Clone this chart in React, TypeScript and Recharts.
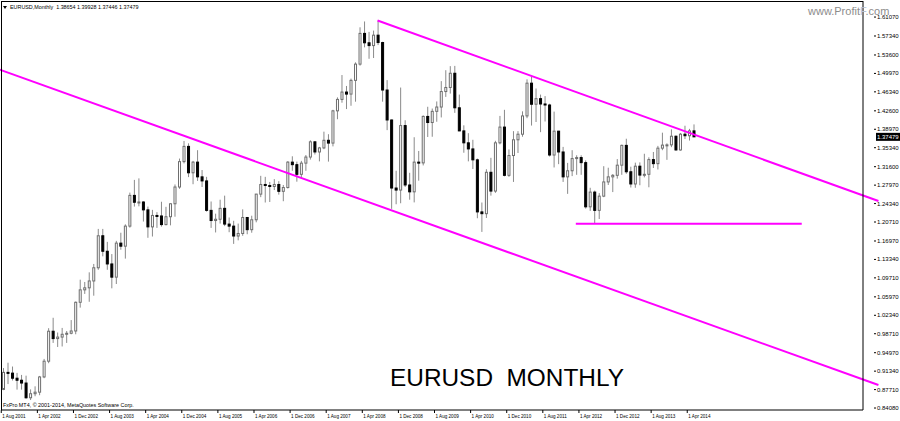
import { ComposedChart, Bar, XAxis, YAxis, ReferenceLine } from 'recharts'

// monthly EURUSD candles, [open, high, low, close], Aug 2001 .. May 2014
const y2001 = [
  [0.8775, 0.9195, 0.876, 0.911], [0.911, 0.93, 0.888, 0.9095], [0.9095, 0.9225, 0.895, 0.8995],
  [0.8995, 0.91, 0.877, 0.8955], [0.8955, 0.906, 0.877, 0.89],
]
const y2002 = [
  [0.89, 0.9045, 0.859, 0.861], [0.861, 0.8775, 0.8565, 0.869], [0.869, 0.8835, 0.864, 0.872],
  [0.872, 0.904, 0.866, 0.902], [0.902, 0.9375, 0.8995, 0.933], [0.933, 0.998, 0.929, 0.992],
  [0.992, 1.0185, 0.969, 0.9775], [0.9775, 0.9895, 0.961, 0.9805], [0.9805, 0.9985, 0.962, 0.986],
  [0.986, 0.9925, 0.969, 0.988], [0.988, 1.014, 0.986, 0.9925], [0.9925, 1.0505, 0.986, 1.049],
]
const y2003 = [
  [1.049, 1.0935, 1.0385, 1.0735], [1.0735, 1.089, 1.0655, 1.0775], [1.0775, 1.108, 1.05, 1.091],
  [1.091, 1.1245, 1.062, 1.117], [1.117, 1.1935, 1.113, 1.18], [1.18, 1.1935, 1.1395, 1.1495],
  [1.1495, 1.168, 1.113, 1.1245], [1.1245, 1.144, 1.0765, 1.0985], [1.0985, 1.17, 1.085, 1.1655],
  [1.1655, 1.186, 1.1525, 1.1595], [1.1595, 1.2025, 1.135, 1.199], [1.199, 1.265, 1.196, 1.2595],
]
const y2004 = [
  [1.2595, 1.29, 1.2375, 1.246], [1.246, 1.293, 1.238, 1.2465], [1.2465, 1.248, 1.208, 1.231],
  [1.231, 1.2375, 1.176, 1.1975], [1.1975, 1.231, 1.1785, 1.22], [1.22, 1.2265, 1.1955, 1.219],
  [1.219, 1.247, 1.198, 1.202], [1.202, 1.237, 1.2005, 1.2175], [1.2175, 1.244, 1.2005, 1.243],
  [1.243, 1.281, 1.2175, 1.276], [1.276, 1.332, 1.2725, 1.326], [1.326, 1.3667, 1.3225, 1.356],
]
const y2005 = [
  [1.356, 1.362, 1.2955, 1.304], [1.304, 1.3275, 1.2815, 1.325], [1.325, 1.3485, 1.288, 1.296],
  [1.296, 1.3095, 1.276, 1.288], [1.288, 1.296, 1.2275, 1.23], [1.23, 1.2475, 1.1955, 1.21],
  [1.21, 1.2235, 1.1865, 1.2125], [1.2125, 1.251, 1.204, 1.234], [1.234, 1.259, 1.199, 1.203],
  [1.203, 1.216, 1.187, 1.199], [1.199, 1.2095, 1.164, 1.1795], [1.1795, 1.204, 1.171, 1.1845],
]
const y2006 = [
  [1.1845, 1.232, 1.18, 1.216], [1.216, 1.217, 1.183, 1.192], [1.192, 1.2195, 1.186, 1.2115],
  [1.2115, 1.2625, 1.2065, 1.262], [1.262, 1.298, 1.256, 1.281], [1.281, 1.296, 1.2455, 1.279],
  [1.279, 1.286, 1.2465, 1.277], [1.277, 1.2915, 1.27, 1.281], [1.281, 1.2875, 1.261, 1.2675],
  [1.2675, 1.28, 1.248, 1.275], [1.275, 1.327, 1.273, 1.325], [1.325, 1.3365, 1.308, 1.32],
]
const y2007 = [
  [1.32, 1.326, 1.2865, 1.301], [1.301, 1.3275, 1.293, 1.323], [1.323, 1.339, 1.308, 1.335],
  [1.335, 1.368, 1.33, 1.365], [1.365, 1.3655, 1.34, 1.345], [1.345, 1.355, 1.3265, 1.353],
  [1.353, 1.385, 1.3505, 1.368], [1.368, 1.38, 1.326, 1.3625], [1.3625, 1.428, 1.356, 1.426],
  [1.426, 1.4525, 1.4095, 1.4485], [1.4485, 1.4965, 1.442, 1.463], [1.463, 1.475, 1.4295, 1.459],
]
const y2008 = [
  [1.459, 1.4895, 1.436, 1.486], [1.486, 1.5215, 1.444, 1.518], [1.518, 1.5905, 1.515, 1.5785],
  [1.5785, 1.602, 1.551, 1.56], [1.56, 1.5815, 1.5285, 1.5545], [1.5545, 1.584, 1.53, 1.575],
  [1.575, 1.6038, 1.5555, 1.5605], [1.5605, 1.562, 1.444, 1.467], [1.467, 1.4865, 1.388, 1.408],
  [1.408, 1.409, 1.233, 1.274], [1.274, 1.308, 1.242, 1.27], [1.27, 1.4719, 1.244, 1.397],
]
const y2009 = [
  [1.397, 1.4075, 1.276, 1.28], [1.28, 1.304, 1.251, 1.2665], [1.2665, 1.374, 1.2457, 1.325],
  [1.325, 1.347, 1.2885, 1.3235], [1.3235, 1.417, 1.3185, 1.415], [1.415, 1.434, 1.3745, 1.403],
  [1.403, 1.4305, 1.375, 1.425], [1.425, 1.4445, 1.4045, 1.4335], [1.4335, 1.4845, 1.413, 1.464],
  [1.464, 1.506, 1.4535, 1.472], [1.472, 1.514, 1.46, 1.5], [1.5, 1.5145, 1.422, 1.432],
]
const y2010 = [
  [1.432, 1.458, 1.386, 1.3865], [1.3865, 1.3975, 1.3435, 1.363], [1.363, 1.382, 1.3265, 1.351],
  [1.351, 1.369, 1.3115, 1.3295], [1.3295, 1.332, 1.2145, 1.227], [1.227, 1.2455, 1.1876, 1.2235],
  [1.2235, 1.311, 1.215, 1.305], [1.305, 1.3335, 1.259, 1.268], [1.268, 1.367, 1.2645, 1.363],
  [1.363, 1.416, 1.36, 1.394], [1.394, 1.428, 1.297, 1.299], [1.299, 1.35, 1.296, 1.338],
]
const y2011 = [
  [1.338, 1.386, 1.286, 1.369], [1.369, 1.386, 1.343, 1.38], [1.38, 1.425, 1.375, 1.416],
  [1.416, 1.488, 1.4115, 1.4805], [1.4805, 1.494, 1.397, 1.439], [1.439, 1.47, 1.404, 1.45],
  [1.45, 1.458, 1.384, 1.4395], [1.4395, 1.455, 1.405, 1.4375], [1.4375, 1.44, 1.336, 1.339],
  [1.339, 1.4245, 1.3145, 1.386], [1.386, 1.3865, 1.321, 1.345], [1.345, 1.355, 1.286, 1.296],
]
const y2012 = [
  [1.296, 1.3235, 1.2625, 1.308], [1.308, 1.3485, 1.2975, 1.332], [1.332, 1.3385, 1.3, 1.334],
  [1.334, 1.3385, 1.3, 1.324], [1.324, 1.3285, 1.2335, 1.237], [1.237, 1.2745, 1.229, 1.266],
  [1.266, 1.269, 1.2042, 1.23], [1.23, 1.264, 1.213, 1.258], [1.258, 1.317, 1.256, 1.286],
  [1.286, 1.314, 1.28, 1.296], [1.296, 1.3015, 1.266, 1.299], [1.299, 1.331, 1.2925, 1.319],
]
const y2013 = [
  [1.319, 1.3595, 1.3, 1.358], [1.358, 1.3711, 1.302, 1.306], [1.306, 1.316, 1.275, 1.282],
  [1.282, 1.324, 1.2745, 1.317], [1.317, 1.3245, 1.2795, 1.2995], [1.2995, 1.3415, 1.295, 1.301],
  [1.301, 1.3345, 1.2755, 1.33], [1.33, 1.345, 1.3135, 1.322], [1.322, 1.357, 1.3105, 1.3525],
  [1.3525, 1.383, 1.3485, 1.3585], [1.3585, 1.362, 1.3295, 1.359], [1.359, 1.3895, 1.3545, 1.376],
]
const y2014 = [
  [1.376, 1.3775, 1.3475, 1.349], [1.349, 1.3825, 1.3475, 1.38], [1.38, 1.3967, 1.3705, 1.377],
  [1.377, 1.3905, 1.3675, 1.3865], [1.38654, 1.39928, 1.37446, 1.37479],
]

const MONTHS = ['Jan', 'Feb', 'Mar', 'Apr', 'May', 'Jun', 'Jul', 'Aug', 'Sep', 'Oct', 'Nov', 'Dec']
const START_YEAR = 2001
const START_MONTH = 7 // Aug
const SLOTS = 191 // visible bar slots incl. empty space on the right

const dateTicks = [
  '1 Aug 2001', '1 Apr 2002', '1 Dec 2002', '1 Aug 2003', '1 Apr 2004', '1 Dec 2004', '1 Aug 2005',
  '1 Apr 2006', '1 Dec 2006', '1 Aug 2007', '1 Apr 2008', '1 Dec 2008', '1 Aug 2009', '1 Apr 2010',
  '1 Dec 2010', '1 Aug 2011', '1 Apr 2012', '1 Dec 2012', '1 Aug 2013', '1 Apr 2014',
]
const priceTicks = [
  0.8408, 0.8771, 0.9134, 0.9497, 0.9871, 1.0234, 1.0597, 1.0971, 1.1334, 1.1697, 1.2071,
  1.2434, 1.2797, 1.316, 1.3534, 1.3897, 1.426, 1.4634, 1.4997, 1.536, 1.5734, 1.6107,
]
const currentPrice = 1.37479

// drawn objects: bar index (slot) and price
const upperChannel = [{ x: 83, y: 1.6038 }, { x: 193.4, y: 1.2484 }]
const lowerChannel = [{ x: -0.72, y: 1.5084 }, { x: 193.4, y: 0.8861 }]
const supportLine = [{ x: 126.7, y: 1.2035 }, { x: 176.5, y: 1.2035 }]

const candles = [
  ...y2001, ...y2002, ...y2003, ...y2004, ...y2005, ...y2006, ...y2007,
  ...y2008, ...y2009, ...y2010, ...y2011, ...y2012, ...y2013, ...y2014,
]

const rows = Array.from({ length: SLOTS }, (_, k) => {
  const mi = START_MONTH + k
  const m = `1 ${MONTHS[mi % 12]} ${START_YEAR + Math.floor(mi / 12)}`
  const c = candles[k]
  return c ? { m, o: c[0], h: c[1], l: c[2], c: c[3] } : { m }
})

const FONT = '"Liberation Sans", Arial, sans-serif'
const MAGENTA = '#ff00ff'

function Candle(props: any) {
  const { x, y, width, height, payload } = props
  if (!payload || payload.h == null) return null
  const { o, h, l, c } = payload
  const top = Math.min(y, y + height)
  const hh = Math.abs(height)
  const k = hh / (h - l)
  const py = (p: number) => top + (h - p) * k
  const bt = py(Math.max(o, c))
  const bb = py(Math.min(o, c))
  const cx = x + width / 2
  const up = c >= o
  return (
    <g>
      <line x1={cx} x2={cx} y1={top} y2={top + hh} stroke="#8a8a8a" strokeWidth={1} />
      <rect
        x={x + 0.5}
        y={bt}
        width={width - 1}
        height={Math.max(bb - bt, 1)}
        fill={up ? '#fff' : '#000'}
        stroke={up ? '#6e6e6e' : '#000'}
        strokeWidth={1}
      />
    </g>
  )
}

function PriceTick(props: any) {
  const { x, y, payload } = props
  const v = payload.value
  const txt = v.toFixed(5)
  if (Math.abs(v - currentPrice) < 1e-6) {
    return (
      <g>
        <rect x={x + 13} y={y - 4} width={24} height={8} fill="#000" />
        <text x={x + 14} y={y + 2} fill="#fff" fontSize={6} fontFamily={FONT}>{txt}</text>
      </g>
    )
  }
  return (
    <g>
      <line x1={x + 11} x2={x + 13} y1={y} y2={y} stroke="#000" />
      <text x={x + 14} y={y + 2} fill="#000" fontSize={6} fontFamily={FONT}>{txt}</text>
    </g>
  )
}

function DateTick(props: any) {
  const { x, y, payload } = props
  if (!dateTicks.includes(payload.value)) return null
  return (
    <g>
      <line x1={x - 2} x2={x - 2} y1={y} y2={y + 3} stroke="#000" />
      <text x={x - 1} y={y + 8} fill="#000" fontSize={4.6} fontFamily={FONT}>{payload.value}</text>
    </g>
  )
}

export default function App() {
  return (
    <div style={{ position: 'absolute', left: 0, top: 0, width: 900, height: 421, background: '#fff' }}>
      <ComposedChart width={900} height={421} data={rows} margin={{ top: 1, right: 0, bottom: 0, left: 1 }}>
        <XAxis
          dataKey="m"
          height={11}
          interval={0}
          tickSize={0}
          tickMargin={0}
          tickLine={false}
          axisLine={{ stroke: '#000' }}
          tick={<DateTick />}
        />
        <XAxis xAxisId="n" type="number" domain={[-0.5, SLOTS - 0.5]} allowDataOverflow hide />
        <YAxis
          orientation="right"
          type="number"
          width={37}
          domain={[0.8369, 1.6423]}
          allowDataOverflow
          ticks={[...priceTicks, currentPrice]}
          interval={0}
          tickSize={0}
          tickMargin={0}
          tickLine={false}
          axisLine={{ stroke: '#000' }}
          tick={<PriceTick />}
        />
        <Bar
          dataKey={(d: any) => (d.h == null ? null : [d.l, d.h])}
          barSize={3}
          shape={<Candle />}
          isAnimationActive={false}
        />
        <ReferenceLine xAxisId="n" segment={lowerChannel} stroke={MAGENTA} strokeWidth={2} ifOverflow="visible" />
        <ReferenceLine xAxisId="n" segment={upperChannel} stroke={MAGENTA} strokeWidth={2} ifOverflow="visible" />
        <ReferenceLine xAxisId="n" segment={supportLine} stroke={MAGENTA} strokeWidth={2} ifOverflow="visible" />
      </ComposedChart>
      <svg width={900} height={421} style={{ position: 'absolute', left: 0, top: 0, pointerEvents: 'none' }}>
        <line x1={1.5} x2={1.5} y1={1} y2={410} stroke="#000" />
        <line x1={1} x2={863} y1={1.5} y2={1.5} stroke="#000" />
        <path d="M3 6 L7 6 L5 9 Z" fill="#000" />
        <text x={10} y={9} fontSize={5.4} fontFamily={FONT} fill="#000" xmlSpace="preserve">
          EURUSD,Monthly  1.38654 1.39928 1.37446 1.37479
        </text>
        <text x={3} y={407} fontSize={5.4} fontFamily={FONT} fill="#000">
          FxPro MT4, © 2001-2014, MetaQuotes Software Corp.
        </text>
        <text x={808} y={15} fontSize={11} fontFamily={FONT} fill="#8c8c8c">
          www.Profit<tspan fill="#b7c3d3">F</tspan>.com
        </text>
        <text x={390} y={386} fontSize={24.4} fontFamily={FONT} fill="#000" xmlSpace="preserve">
          EURUSD  MONTHLY
        </text>
      </svg>
    </div>
  )
}
